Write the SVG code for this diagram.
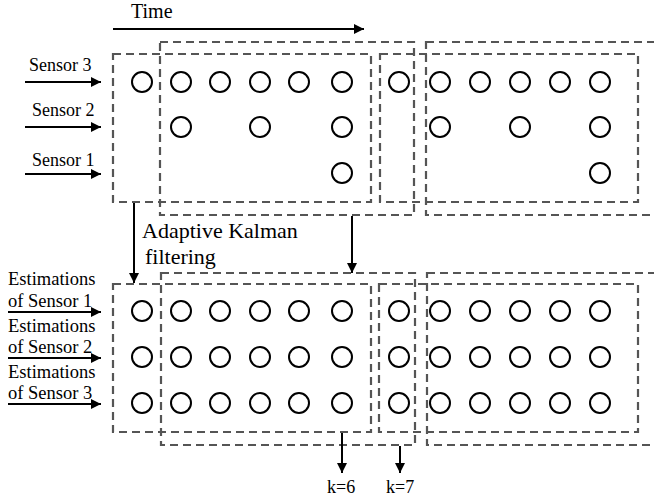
<svg xmlns="http://www.w3.org/2000/svg" width="654" height="502" viewBox="0 0 654 502">
<style>
.win{fill:none;stroke:#555;stroke-width:2.2;stroke-dasharray:8 5}
.c{fill:none;stroke:#000;stroke-width:2}
.ar{fill:none;stroke:#000;stroke-width:2}
.t{font-family:'Liberation Serif','Times New Roman',serif;fill:#000}
</style>
<defs>
<marker id="ah" viewBox="0 0 10 10" refX="10" refY="5" markerWidth="5.5" markerHeight="5" orient="auto" markerUnits="strokeWidth">
<path d="M0,0 L10,5 L0,10 z" fill="#000"/>
</marker>
</defs>
<rect width="654" height="502" fill="#fff"/>

<g id="time" class="t" font-family="Liberation Serif, serif">
<text x="131" y="18" font-size="20" font-family="Liberation Serif, serif">Time</text>
</g>

<g id="labels-top" class="t" font-family="Liberation Serif, serif">
<text x="29" y="71" font-size="18" font-family="Liberation Serif, serif">Sensor 3</text>
<text x="32" y="116" font-size="18" font-family="Liberation Serif, serif">Sensor 2</text>
<text x="32" y="166" font-size="18" font-family="Liberation Serif, serif">Sensor 1</text>
</g>

<g id="akf" class="t" font-family="Liberation Serif, serif">
<text x="142" y="238" font-size="22" font-family="Liberation Serif, serif">Adaptive Kalman</text>
<text x="145" y="264" font-size="22" font-family="Liberation Serif, serif">filtering</text>
</g>

<g id="labels-bottom" class="t" font-family="Liberation Serif, serif">
<text x="8" y="285" font-size="18.5" font-family="Liberation Serif, serif">Estimations</text>
<text x="8" y="307" font-size="18.5" font-family="Liberation Serif, serif">of Sensor 1</text>
<text x="8" y="332" font-size="18.5" font-family="Liberation Serif, serif">Estimations</text>
<text x="8" y="353" font-size="18.5" font-family="Liberation Serif, serif">of Sensor 2</text>
<text x="8" y="378" font-size="18.5" font-family="Liberation Serif, serif">Estimations</text>
<text x="8" y="399" font-size="18.5" font-family="Liberation Serif, serif">of Sensor 3</text>
</g>

<g id="k-labels" class="t" font-family="Liberation Serif, serif">
<text x="327" y="493" font-size="18" font-family="Liberation Serif, serif">k=6</text>
<text x="386" y="493" font-size="18" font-family="Liberation Serif, serif">k=7</text>
</g>

<g id="windows-top">
<rect id="wtA" class="win" x="113" y="54" width="258" height="148"/>
<rect id="wtB" class="win" x="160" y="42" width="254" height="173"/>
<rect id="wtC" class="win" x="380" y="54" width="258" height="148"/>
<rect id="wtD" class="win" x="426" y="42" width="240" height="173"/>
</g>
<g id="windows-bottom">
<rect id="wbA" class="win" x="113" y="284" width="258" height="148"/>
<rect id="wbB" class="win" x="161" y="273" width="254" height="172"/>
<rect id="wbC" class="win" x="379" y="284" width="259" height="148"/>
<rect id="wbD" class="win" x="427" y="273" width="240" height="172"/>
</g>

<g id="circles-top">
<circle class="c" cx="142" cy="82" r="10"/>
<circle class="c" cx="181" cy="82" r="10"/>
<circle class="c" cx="220" cy="82" r="10"/>
<circle class="c" cx="260" cy="82" r="10"/>
<circle class="c" cx="299" cy="82" r="10"/>
<circle class="c" cx="342" cy="82" r="10"/>
<circle class="c" cx="399" cy="82" r="10"/>
<circle class="c" cx="440" cy="82" r="10"/>
<circle class="c" cx="480" cy="82" r="10"/>
<circle class="c" cx="520" cy="82" r="10"/>
<circle class="c" cx="560" cy="82" r="10"/>
<circle class="c" cx="600" cy="82" r="10"/>
<circle class="c" cx="181" cy="127" r="10"/>
<circle class="c" cx="260" cy="127" r="10"/>
<circle class="c" cx="342" cy="127" r="10"/>
<circle class="c" cx="440" cy="127" r="10"/>
<circle class="c" cx="520" cy="127" r="10"/>
<circle class="c" cx="600" cy="127" r="10"/>
<circle class="c" cx="342" cy="173" r="10"/>
<circle class="c" cx="600" cy="173" r="10"/>
</g>

<g id="circles-bottom">
<circle class="c" cx="142" cy="311" r="10"/>
<circle class="c" cx="181" cy="311" r="10"/>
<circle class="c" cx="220" cy="311" r="10"/>
<circle class="c" cx="260" cy="311" r="10"/>
<circle class="c" cx="299" cy="311" r="10"/>
<circle class="c" cx="342" cy="311" r="10"/>
<circle class="c" cx="399" cy="311" r="10"/>
<circle class="c" cx="440" cy="311" r="10"/>
<circle class="c" cx="480" cy="311" r="10"/>
<circle class="c" cx="520" cy="311" r="10"/>
<circle class="c" cx="560" cy="311" r="10"/>
<circle class="c" cx="600" cy="311" r="10"/>
<circle class="c" cx="142" cy="357" r="10"/>
<circle class="c" cx="181" cy="357" r="10"/>
<circle class="c" cx="220" cy="357" r="10"/>
<circle class="c" cx="260" cy="357" r="10"/>
<circle class="c" cx="299" cy="357" r="10"/>
<circle class="c" cx="342" cy="357" r="10"/>
<circle class="c" cx="399" cy="357" r="10"/>
<circle class="c" cx="440" cy="357" r="10"/>
<circle class="c" cx="480" cy="357" r="10"/>
<circle class="c" cx="520" cy="357" r="10"/>
<circle class="c" cx="560" cy="357" r="10"/>
<circle class="c" cx="600" cy="357" r="10"/>
<circle class="c" cx="142" cy="403" r="10"/>
<circle class="c" cx="181" cy="403" r="10"/>
<circle class="c" cx="220" cy="403" r="10"/>
<circle class="c" cx="260" cy="403" r="10"/>
<circle class="c" cx="299" cy="403" r="10"/>
<circle class="c" cx="342" cy="403" r="10"/>
<circle class="c" cx="399" cy="403" r="10"/>
<circle class="c" cx="440" cy="403" r="10"/>
<circle class="c" cx="480" cy="403" r="10"/>
<circle class="c" cx="520" cy="403" r="10"/>
<circle class="c" cx="560" cy="403" r="10"/>
<circle class="c" cx="600" cy="403" r="10"/>
</g>

<g id="connectors">
<line class="ar" x1="113" y1="29" x2="364" y2="29" marker-end="url(#ah)"/>
<line class="ar" x1="25" y1="82" x2="101" y2="82" marker-end="url(#ah)"/>
<line class="ar" x1="25" y1="127" x2="101" y2="127" marker-end="url(#ah)"/>
<line class="ar" x1="25" y1="174" x2="101" y2="174" marker-end="url(#ah)"/>
<line class="ar" x1="134" y1="203" x2="134" y2="283" marker-end="url(#ah)"/>
<line class="ar" x1="352" y1="216" x2="352" y2="273" marker-end="url(#ah)"/>
<line class="ar" x1="8" y1="312" x2="101" y2="312" marker-end="url(#ah)"/>
<line class="ar" x1="8" y1="358" x2="101" y2="358" marker-end="url(#ah)"/>
<line class="ar" x1="8" y1="404" x2="101" y2="404" marker-end="url(#ah)"/>
<line class="ar" x1="342" y1="433" x2="342" y2="473" marker-end="url(#ah)"/>
<line class="ar" x1="400" y1="446" x2="400" y2="473" marker-end="url(#ah)"/>
</g>
</svg>
